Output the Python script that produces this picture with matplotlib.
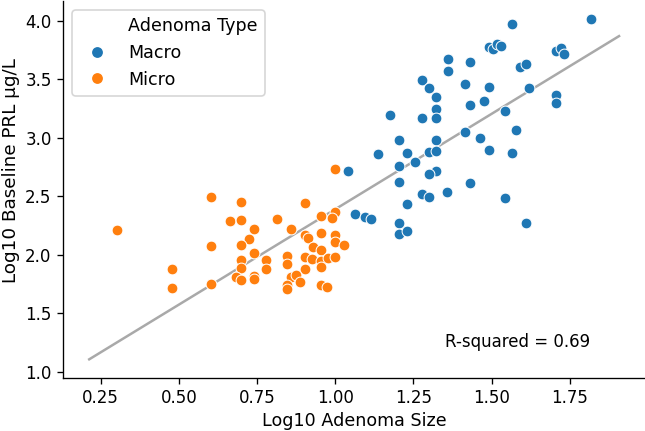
import numpy as np
import matplotlib
matplotlib.use("Agg")
import matplotlib.pyplot as plt
from matplotlib.lines import Line2D

# Log10 adenoma size / log10 baseline prolactin
macro_size = [1.818, 1.567, 1.492, 1.505, 1.517, 1.531, 1.360, 1.431, 1.360, 1.279,
              1.300, 1.322, 1.322, 1.322, 1.279, 1.175, 1.414, 1.491, 1.477, 1.431,
              1.542, 1.578, 1.414, 1.462, 1.491, 1.567, 1.621, 1.590, 1.611, 1.705,
              1.721, 1.731, 1.705, 1.705, 1.203, 1.322, 1.137, 1.230, 1.300, 1.323,
              1.255, 1.203, 1.322, 1.300, 1.203, 1.431, 1.278, 1.300, 1.359, 1.543,
              1.230, 1.042, 1.064, 1.096, 1.114, 1.203, 1.203, 1.230, 1.611]
macro_prl = [4.015, 3.972, 3.773, 3.758, 3.798, 3.786, 3.670, 3.650, 3.568, 3.491,
             3.427, 3.345, 3.248, 3.166, 3.166, 3.197, 3.462, 3.431, 3.311, 3.277,
             3.228, 3.063, 3.051, 3.000, 2.897, 2.872, 3.422, 3.602, 3.627, 3.744,
             3.767, 3.715, 3.368, 3.299, 2.982, 2.982, 2.862, 2.867, 2.880, 2.891,
             2.789, 2.756, 2.720, 2.686, 2.620, 2.617, 2.519, 2.491, 2.533, 2.485,
             2.432, 2.720, 2.346, 2.324, 2.309, 2.275, 2.178, 2.200, 2.268]

micro_size = [0.303, 0.478, 0.478, 0.603, 0.603, 0.603, 0.699, 0.904, 0.664, 0.699,
              0.813, 0.954, 1.000, 0.991, 0.741, 0.857, 0.724, 0.699, 0.904, 0.914,
              0.955, 1.000, 1.000, 1.029, 0.930, 0.955, 0.741, 0.699, 0.699, 0.779,
              0.779, 0.845, 0.845, 0.904, 0.927, 0.955, 0.955, 0.978, 1.000, 0.904,
              0.682, 0.699, 0.741, 0.741, 0.857, 0.875, 0.888, 0.845, 0.845, 0.955,
              0.973, 1.000]
micro_prl = [2.209, 1.878, 1.718, 2.496, 2.074, 1.752, 2.450, 2.442, 2.285, 2.297,
             2.308, 2.331, 2.368, 2.311, 2.222, 2.220, 2.134, 2.083, 2.171, 2.145,
             2.188, 2.168, 2.106, 2.083, 2.068, 2.040, 2.017, 1.955, 1.889, 1.955,
             1.880, 1.989, 1.923, 1.978, 1.963, 1.944, 1.892, 1.974, 1.978, 1.875,
             1.807, 1.784, 1.821, 1.792, 1.812, 1.824, 1.764, 1.741, 1.704, 1.738,
             1.724, 2.732]

r_squared = 0.69

fig = plt.figure(figsize=(645 / 120, 431 / 120), dpi=120)
ax = fig.add_axes([0.0981, 0.1234, 0.9019, 0.8735])

all_x = np.array(macro_size + micro_size)
all_y = np.array(macro_prl + micro_prl)

# regression line over the padded x range
slope, intercept = np.polyfit(all_x, all_y, 1)
pad = 0.09
line_x = np.array([all_x.min() - pad, all_x.max() + pad])
ax.plot(line_x, intercept + slope * line_x, color="darkgrey", lw=1.5, zorder=1)

ax.scatter(macro_size, macro_prl, s=42, color="#1f77b4", edgecolor="white",
           linewidth=0.6, zorder=2)
ax.scatter(micro_size, micro_prl, s=42, color="#ff7f0e", edgecolor="white",
           linewidth=0.6, zorder=2)

ax.text(1.351, 1.254, "R-squared = %.2f" % r_squared, fontsize=10,
        ha="left", va="center")

handles = [Line2D([], [], linestyle="none", marker=""),
           Line2D([], [], linestyle="none", marker="o", markersize=7.5,
                  color="#1f77b4", markeredgecolor="white"),
           Line2D([], [], linestyle="none", marker="o", markersize=7.5,
                  color="#ff7f0e", markeredgecolor="white")]
ax.legend(handles, ["Adenoma Type", "Macro", "Micro"], loc="upper left",
          fontsize=10.5, framealpha=0.8)

ax.set_xlim(0.130, 1.991)
ax.set_ylim(0.948, 4.166)
ax.set_xticks([0.25, 0.5, 0.75, 1.0, 1.25, 1.5, 1.75])
ax.set_yticks([1.0, 1.5, 2.0, 2.5, 3.0, 3.5, 4.0])
ax.set_xlabel("Log10 Adenoma Size", fontsize=10.5, labelpad=3)
ax.set_ylabel("Log10 Baseline PRL µg/L", fontsize=11)
ax.yaxis.set_label_coords(-0.075, 0.55)
ax.tick_params(labelsize=10)
ax.spines["top"].set_visible(False)
ax.spines["right"].set_visible(False)

plt.savefig("out.png", dpi=120)
